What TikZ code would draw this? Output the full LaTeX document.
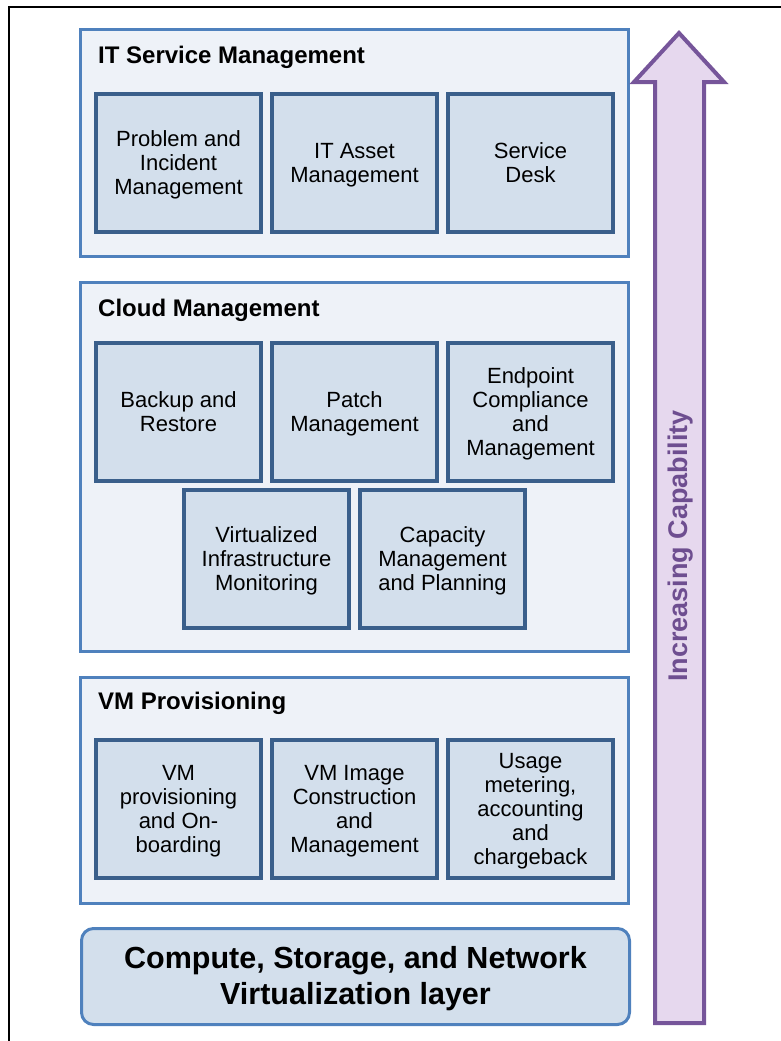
\documentclass[tikz,border=0pt]{standalone}
\usepackage{fontspec}
\setmainfont{Liberation Sans}
\definecolor{grpborder}{HTML}{4F81BD}
\definecolor{grpfill}{HTML}{EEF2F8}
\definecolor{boxborder}{HTML}{3A5F8B}
\definecolor{boxfill}{HTML}{D3DFEC}
\definecolor{arrowborder}{HTML}{76559A}
\definecolor{arrowfill}{HTML}{E6D8EE}
\definecolor{arrowtext}{HTML}{6E4E90}
\begin{document}
\begin{tikzpicture}[x=1pt,y=-1pt,
  grp/.style={draw=grpborder, fill=grpfill, line width=3pt, minimum width=548pt, anchor=north west, inner sep=0pt, outer sep=0pt},
  inbox/.style={draw=boxborder, fill=boxfill, line width=4pt, minimum width=165pt, minimum height=138pt, inner sep=0pt},
  boxtext/.style={inner sep=0pt, align=center, yshift=-2.5pt, font=\fontsize{22}{24}\selectfont},
  grptitle/.style={anchor=west, inner sep=0pt, font=\bfseries\fontsize{24}{28}\selectfont},
  base/.style={draw=grpborder, fill=boxfill, line width=3pt, rounded corners=12pt, minimum width=548pt, minimum height=96pt, anchor=north west, inner sep=0pt},
  basetext/.style={inner sep=0pt, align=center, yshift=-2pt, font=\bfseries\fontsize{30.5}{36}\selectfont}
]
\useasboundingbox (0,0) rectangle (781,1041);
% outer frame
\draw[black, line width=1.6pt] (9,1041) -- (9,7) -- (781,7);

% groups
\node[grp, minimum height=226pt] (itsm) at (80,30) {};
\node[grp, minimum height=369pt] (cloud) at (80,282) {};
\node[grp, minimum height=226pt] (vmp) at (80,677) {};

\node[grptitle] (itsmT) at (98,57) {IT Service Management};
\node[grptitle] (cloudT) at (98,310) {Cloud Management};
\node[grptitle] (vmpT) at (98,703) {VM Provisioning};

% IT Service Management boxes
\node[inbox] (pim) at (178.5,162.5) {};
\node[boxtext] (pimT) at (pim.center) {Problem and\\Incident\\Management};
\node[inbox] (itam) at (354.5,162.5) {};
\node[boxtext] (itamT) at (itam.center) {IT Asset\\Management};
\node[inbox] (sd) at (530.5,162.5) {};
\node[boxtext] (sdT) at (sd.center) {Service\\Desk\vphantom{g}};

% Cloud Management boxes
\node[inbox] (bkp) at (178.5,411.5) {};
\node[boxtext] (bkpT) at (bkp.center) {Backup and\\Restore\vphantom{g}};
\node[inbox] (patch) at (354.5,411.5) {};
\node[boxtext] (patchT) at (patch.center) {Patch\\Management};
\node[inbox] (endp) at (530.5,411.5) {};
\node[boxtext] (endpT) at (endp.center) {Endpoint\\Compliance\\and\\Management};
\node[inbox] (vim) at (266.5,558.5) {};
\node[boxtext] (vimT) at (vim.center) {Virtualized\\Infrastructure\\Monitoring};
\node[inbox] (cap) at (442.5,558.5) {};
\node[boxtext] (capT) at (cap.center) {Capacity\\Management\\and Planning};

% VM Provisioning boxes
\node[inbox] (vmon) at (178.5,808.5) {};
\node[boxtext] (vmonT) at (vmon.center) {VM\\provisioning\\and On-\\boarding};
\node[inbox] (vmimg) at (354.5,808.5) {};
\node[boxtext] (vmimgT) at (vmimg.center) {VM Image\\Construction\\and\\Management};
\node[inbox] (usage) at (530.5,808.5) {};
\node[boxtext] (usageT) at (usage.center) {Usage\\metering,\\accounting\\and\\chargeback};

% base layer
\node[base] (virt) at (80,927) {};
\node[basetext] (virtT) at (virt.center) {Compute, Storage, and Network\\Virtualization layer};

% arrow
\draw[draw=arrowborder, fill=arrowfill, line width=4pt, line join=miter]
  (655,1023) -- (655,82) -- (634,82) -- (679,33) -- (724,82) -- (704,82) -- (704,1023) -- cycle;
\node[rotate=90, text=arrowtext, inner sep=0pt, font=\bfseries\fontsize{27}{30}\selectfont] (arrowT) at (681,546) {Increasing Capability};
\end{tikzpicture}
\end{document}
